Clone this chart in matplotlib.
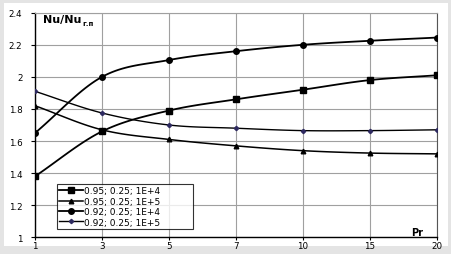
import numpy as np
import matplotlib
matplotlib.use("Agg")
import matplotlib.pyplot as plt
from matplotlib.lines import Line2D
from matplotlib.patches import Rectangle

# Pr values (categorical axis, evenly spaced like the Excel original)
pr_labels = ["1", "3", "5", "7", "10", "15", "20"]

s_095_1e4 = [1.38, 1.66, 1.79, 1.86, 1.92, 1.98, 2.01]
s_095_1e5 = [1.82, 1.67, 1.61, 1.57, 1.54, 1.525, 1.52]
s_092_1e4 = [1.65, 2.00, 2.105, 2.16, 2.20, 2.225, 2.245]
s_092_1e5 = [1.91, 1.775, 1.70, 1.68, 1.665, 1.665, 1.67]

series_names = ["0.95; 0.25; 1E+4", "0.95; 0.25; 1E+5",
                "0.92; 0.25; 1E+4", "0.92; 0.25; 1E+5"]


def smooth(y, n=20):
    # catmull-rom through the points, similar to excel "smoothed line"
    y = np.asarray(y, dtype=float)
    x = np.arange(len(y), dtype=float)
    px = np.concatenate([[2 * x[0] - x[1]], x, [2 * x[-1] - x[-2]]])
    py = np.concatenate([[2 * y[0] - y[1]], y, [2 * y[-1] - y[-2]]])
    xs, ys = [], []
    for i in range(1, len(px) - 2):
        t = np.linspace(0, 1, n, endpoint=(i == len(px) - 3))
        for arr, out in ((px, xs), (py, ys)):
            p0, p1, p2, p3 = arr[i - 1], arr[i], arr[i + 1], arr[i + 2]
            out.extend(0.5 * (2 * p1 + (-p0 + p2) * t
                              + (2 * p0 - 5 * p1 + 4 * p2 - p3) * t ** 2
                              + (-p0 + 3 * p1 - 3 * p2 + p3) * t ** 3))
    return np.array(xs), np.array(ys)


fig = plt.figure(figsize=(4.52, 2.55), dpi=100)
fig.patch.set_facecolor("#e4e4e4")
fig.patches.append(Rectangle((4 / 452, 8 / 255), 444 / 452, 243 / 255,
                             transform=fig.transFigure, facecolor="white",
                             edgecolor="none", zorder=-10))

ax = fig.add_axes([35 / 452, 16.7 / 255, 402 / 452, 224.6 / 255])
ax.set_facecolor("white")

x = np.arange(len(pr_labels))
styles = [
    (s_095_1e4, "s", 4.0, "black", 1.3),
    (s_095_1e5, "^", 3.3, "black", 1.1),
    (s_092_1e4, "o", 4.0, "black", 1.3),
    (s_092_1e5, "D", 2.2, "#2e2a60", 1.0),
]
handles = []
for (vals, mk, ms, mc, lw), name in zip(styles, series_names):
    sx, sy = smooth(vals)
    ax.plot(sx, sy, color="black", lw=lw, zorder=3)
    ax.plot(x, vals, ls="none", marker=mk, ms=ms, color=mc, zorder=4)
    handles.append(Line2D([], [], color="black", lw=lw, marker=mk, ms=ms,
                          markerfacecolor=mc, markeredgecolor=mc))

ax.set_xlim(0, 6)
ax.set_ylim(1, 2.4)
ax.set_xticks(x)
ax.set_xticklabels(pr_labels)
ax.set_yticks([1, 1.2, 1.4, 1.6, 1.8, 2, 2.2, 2.4])
ax.set_yticklabels(["1", "1.2", "1.4", "1.6", "1.8", "2", "2.2", "2.4"])
ax.grid(True, color="#a0a0a0", lw=0.8)
ax.set_axisbelow(True)
ax.tick_params(axis="x", labelsize=6.3, length=2, width=0.8, pad=0.5)
ax.tick_params(axis="y", labelsize=6.3, length=3, width=0.8, pad=6)
for side in ["top", "right"]:
    ax.spines[side].set_color("#a0a0a0")
    ax.spines[side].set_linewidth(0.8)
ax.spines["right"].set_color("#555555")
ax.spines["left"].set_linewidth(1.0)
ax.spines["bottom"].set_linewidth(1.0)

t1 = ax.text(0.02, 0.97, "Nu/Nu", transform=ax.transAxes, fontsize=8,
             fontweight="bold", va="center", ha="left")
fig.canvas.draw()
bb = t1.get_window_extent().transformed(ax.transAxes.inverted())
ax.text(bb.x1 + 0.002, 0.955, "г.п", transform=ax.transAxes, fontsize=5,
        fontweight="bold", va="center", ha="left")
ax.text(0.95, 0.022, "Pr", transform=ax.transAxes, fontsize=7,
        fontweight="bold", va="center", ha="center")

leg = ax.legend(handles, series_names, loc="lower left", mode="expand",
                bbox_to_anchor=(0.0547, 0.038, 0.338, 0.2), borderaxespad=0,
                fontsize=6.5, frameon=True, fancybox=False,
                handlelength=2.6, handletextpad=0.1, labelspacing=0.15,
                borderpad=0.25)
leg.get_frame().set_edgecolor("black")
leg.get_frame().set_linewidth(0.8)

fig.savefig("out.png", dpi=100, facecolor=fig.get_facecolor())
